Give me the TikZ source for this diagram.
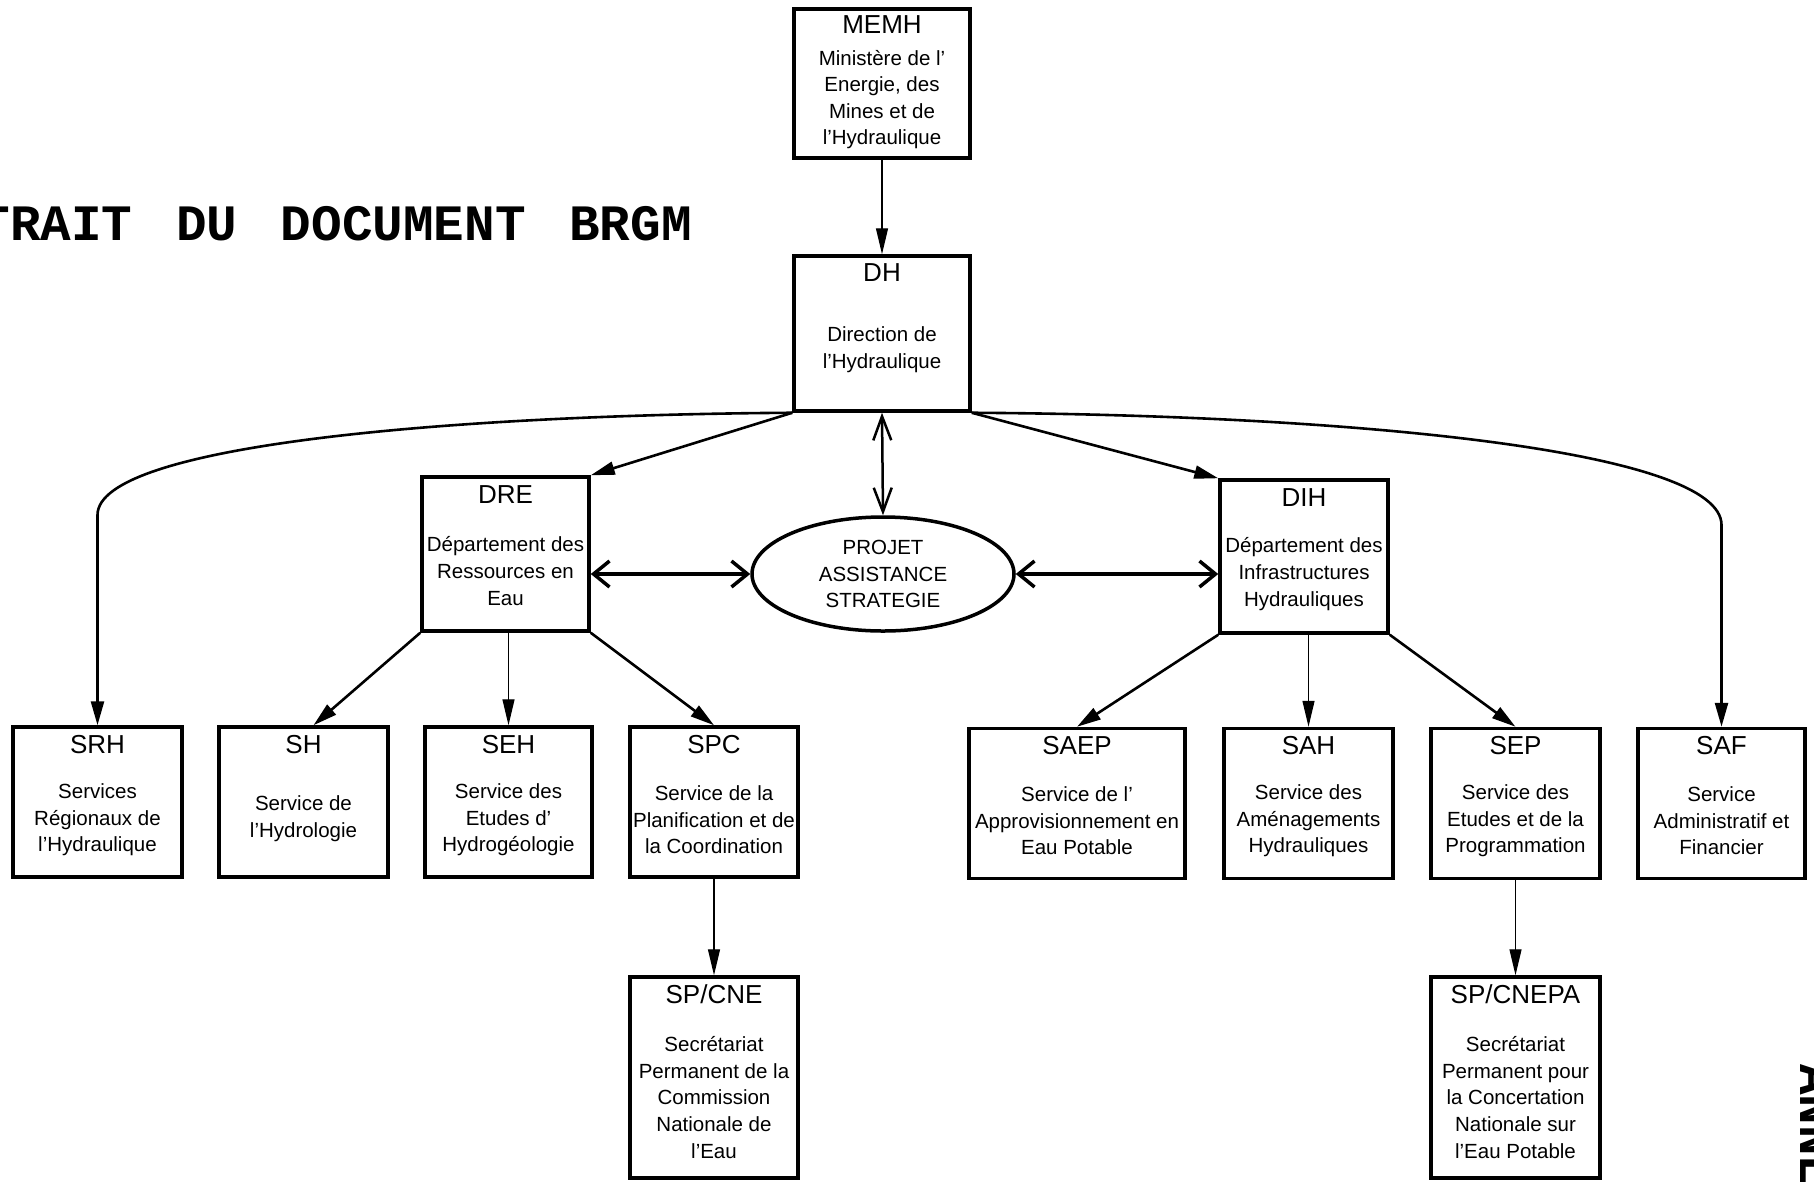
\documentclass[tikz,border=0pt]{standalone}
\usepackage{fontspec}
\setmainfont{Liberation Sans}
\newfontfamily\typew{Liberation Mono}
\usetikzlibrary{arrows.meta,shapes.geometric}

\tikzset{
  orgbox/.style={draw, line width=3.5pt, inner sep=0pt, minimum height=150pt, minimum width=168pt},
  titletext/.style={inner sep=0pt, anchor=base, font=\fontsize{26}{30}\selectfont},
  bodytext/.style={inner sep=0pt, align=center, font=\fontsize{20.5}{26.6}\selectfont},
  thinarr/.style={line width=1.3pt, -{Triangle[length=26pt,width=12pt]}},
  thickarr/.style={line width=2.6pt, -{Triangle[length=24pt,width=13pt]}},
  dblh/.style={line width=3.5pt, {Straight Barb[length=16pt,width=26pt]}-{Straight Barb[length=16pt,width=26pt]}},
  dblv/.style={line width=2.5pt, {Straight Barb[length=24pt,width=18pt]}-{Straight Barb[length=24pt,width=18pt]}},
}

\begin{document}
\begin{tikzpicture}[x=1pt,y=-1pt]
\fill[white] (0,0) rectangle (1814,1181);
\useasboundingbox (0,0) rectangle (1814,1181);

% heading and side mark, cut by the page edge
\begin{scope}
\clip (0,0) rectangle (1814,1181);
\node[inner sep=0pt, anchor=base west, font=\typew\bfseries\fontsize{51}{55}\selectfont] (heading) at (-81.8,240) {EXTRAIT\hspace{13pt} DU\hspace{13pt} DOCUMENT\hspace{13pt} BRGM};
\node[inner sep=0pt, anchor=base west, rotate=-90, font=\typew\bfseries\fontsize{51}{55}\selectfont] (annexe) at (1800,1064) {ANNEXE};
\end{scope}

% top boxes
\node[orgbox, minimum width=176pt, minimum height=149pt] (memh) at (882,83.5) {};
\node[titletext] (memh-t) at (882,33.5) {MEMH};
\node[bodytext] (memh-b) at (882,99.5) {Ministère de l'\\Energie, des\\Mines et de\\l'Hydraulique};

\node[orgbox, minimum width=176pt, minimum height=155pt] (dh) at (882,333.5) {};
\node[titletext] (dh-t) at (882,281.5) {DH};
\node[bodytext] (dh-b) at (882,349.5) {Direction de\\l'Hydraulique};

% departments
\node[orgbox, minimum width=167pt, minimum height=154pt] (dre) at (505.5,554) {};
\node[titletext] (dre-t) at (505.5,503.5) {DRE};
\node[bodytext] (dre-b) at (505.5,571) {Département des\\Ressources en\\Eau};

\node[orgbox, minimum width=168pt, minimum height=153pt] (dih) at (1304,556.5) {};
\node[titletext] (dih-t) at (1304,506.5) {DIH};
\node[bodytext] (dih-b) at (1304,574) {Département des\\Infrastructures\\Hydrauliques};

\node[draw, ellipse, line width=3.5pt, minimum width=262pt, minimum height=114pt, inner sep=0pt, align=center, font=\fontsize{20.5}{26.6}\selectfont] (proj) at (883,574) {PROJET\\ASSISTANCE\\STRATEGIE};

% services row
\node[orgbox, minimum width=169pt] (srh) at (97.5,802) {};
\node[titletext] (srh-t) at (97.5,753.5) {SRH};
\node[bodytext] (srh-b) at (97.5,820) {Services\\Régionaux de\\l'Hydraulique};

\node[orgbox, minimum width=169pt] (sh) at (303.5,802) {};
\node[titletext] (sh-t) at (303.5,753.5) {SH};
\node[bodytext] (sh-b) at (303.5,818.5) {Service de\\l'Hydrologie};

\node[orgbox, minimum width=167pt] (seh) at (508.5,802) {};
\node[titletext] (seh-t) at (508.5,753.5) {SEH};
\node[bodytext] (seh-b) at (508.5,820) {Service des\\Etudes d'\\Hydrogéologie};

\node[orgbox, minimum width=168pt] (spc) at (714,802) {};
\node[titletext] (spc-t) at (714,753.5) {SPC};
\node[bodytext] (spc-b) at (714,820) {Service de la\\Planification et de\\la Coordination};

\node[orgbox, minimum width=216pt] (saep) at (1077,803.5) {};
\node[titletext] (saep-t) at (1077,754.5) {SAEP};
\node[bodytext] (saep-b) at (1077,821) {Service de l'\\Approvisionnement en\\Eau Potable};

\node[orgbox, minimum width=169pt] (sah) at (1308.5,803.5) {};
\node[titletext] (sah-t) at (1308.5,754.5) {SAH};
\node[bodytext] (sah-b) at (1308.5,821) {Service des\\Aménagements\\Hydrauliques};

\node[orgbox, minimum width=169pt] (sep) at (1515.5,803.5) {};
\node[titletext] (sep-t) at (1515.5,754.5) {SEP};
\node[bodytext] (sep-b) at (1515.5,821) {Service des\\Etudes et de la\\Programmation};

\node[orgbox, minimum width=167pt] (saf) at (1721.5,803.5) {};
\node[titletext] (saf-t) at (1721.5,754.5) {SAF};
\node[bodytext] (saf-b) at (1721.5,821) {Service\\Administratif et\\Financier};

% secretariats
\node[orgbox, minimum width=168pt, minimum height=201pt] (spcne) at (714,1077.5) {};
\node[titletext] (spcne-t) at (714,1003.5) {SP/CNE};
\node[bodytext] (spcne-b) at (714,1097.5) {Secrétariat\\Permanent de la\\Commission\\Nationale de\\l'Eau};

\node[orgbox, minimum width=169pt, minimum height=201pt] (spcnepa) at (1515.5,1077.5) {};
\node[titletext] (spcnepa-t) at (1515.5,1003.5) {SP/CNEPA};
\node[bodytext] (spcnepa-b) at (1515.5,1097.5) {Secrétariat\\Permanent pour\\la Concertation\\Nationale sur\\l'Eau Potable};

% connectors
\draw[thinarr] (memh) -- (dh);
\draw[thickarr] (dh.south west) .. controls (450,415) and (97.5,445) .. (97.5,515) -- (srh.north);
\draw[thickarr] (dh.south east) .. controls (1350,415) and (1721.5,450) .. (1721.5,525) -- (saf.north);
\draw[thickarr] (dh.south west) -- (dre.north east);
\draw[thickarr] (dh.south east) -- (dih.north west);
\draw[dblv] (dh.south) -- (proj.north);
\draw[dblh] (proj.west -| dre.east) -- (proj.west);
\draw[dblh] (proj.east) -- (proj.east -| dih.west);

\draw[thickarr] (dre.south west) -- ([xshift=10pt]sh.north);
\draw[thinarr] (seh.north |- dre.south) -- (seh.north);
\draw[thickarr] (dre.south east) -- (spc.north);
\draw[thickarr] (dih.south west) -- (saep.north);
\draw[thinarr] (sah.north |- dih.south) -- (sah.north);
\draw[thickarr] (dih.south east) -- (sep.north);

\draw[thinarr] (spc) -- (spcne);
\draw[thinarr] (sep) -- (spcnepa);
\end{tikzpicture}
\end{document}
